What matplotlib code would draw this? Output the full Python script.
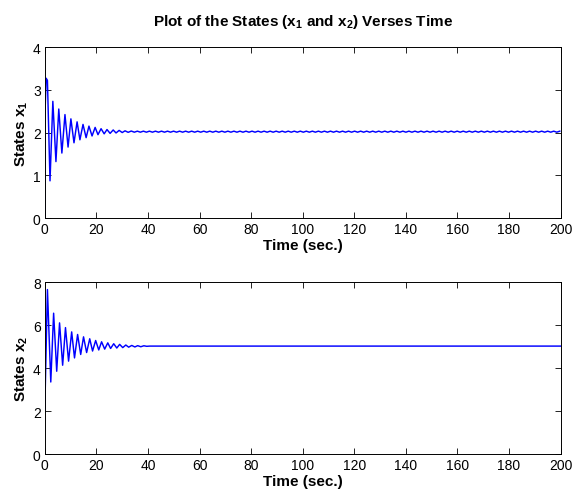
import numpy as np
import matplotlib
matplotlib.use("Agg")
import matplotlib.pyplot as plt

plt.rcParams["font.family"] = ["Liberation Sans", "DejaVu Sans"]
plt.rcParams["mathtext.default"] = "regular"

# turning points of x1 (time, value)
x1_t = [0, 0.05, 0.5, 1.0, 2.0, 3.1, 4.3, 5.4, 6.6, 7.8, 9.0, 10.1, 11.3, 12.5,
        13.6, 14.8, 16.0, 17.1, 18.3, 19.5, 20.6, 21.8, 23.0, 24.1, 25.3, 26.5,
        27.6, 28.8, 30.0, 31.1, 32.3, 33.5]
x1_v = [0, 2.43, 3.27, 3.22, 0.87, 2.73, 1.32, 2.55, 1.52, 2.42, 1.66, 2.32, 1.76,
        2.25, 1.83, 2.19, 1.88, 2.15, 1.92, 2.12, 1.95, 2.09, 1.97, 2.07, 1.98,
        2.06, 1.99, 2.05, 2.00, 2.04, 2.005, 2.035]
# small ripple that stays on x1 until the end
x1_ripple = [2.008, 2.032]

# turning points of x2
x2_t = [0, 0.1, 1.0, 2.3, 3.4, 4.6, 5.7, 6.9, 8.0, 9.2, 10.4, 11.5, 12.7, 13.9,
        15.0, 16.2, 17.4, 18.5, 19.7, 20.9, 22.0, 23.2, 24.4, 25.5, 26.7, 27.9,
        29.0, 30.2, 31.4, 32.5, 33.7, 34.9, 36.0, 37.2, 38.4, 39.5, 40.7, 42.0, 200]
x2_v = [2.0, 2.7, 7.65, 3.35, 6.55, 3.85, 6.1, 4.13, 5.88, 4.32, 5.68, 4.47, 5.56,
        4.63, 5.45, 4.72, 5.36, 4.79, 5.28, 4.84, 5.22, 4.88, 5.17, 4.91, 5.13,
        4.93, 5.10, 4.95, 5.07, 4.97, 5.05, 4.98, 5.04, 4.99, 5.035, 5.01, 5.02,
        5.02, 5.02]

x_ticks = [0, 20, 40, 60, 80, 100, 120, 140, 160, 180, 200]

tail_t = np.arange(34.7, 200.01, 1.17)
t1 = np.concatenate([x1_t, tail_t])
v1 = np.concatenate([x1_v, np.resize(x1_ripple, len(tail_t))])

fig = plt.figure(figsize=(5.75, 5.02), dpi=100)
ax1 = fig.add_axes([0.078, 0.5637, 0.897, 0.3406])
ax2 = fig.add_axes([0.078, 0.0936, 0.897, 0.3426])

ax1.plot(t1, v1, color="#0000ff", lw=1.05)
ax2.plot(x2_t, x2_v, color="#0000ff", lw=1.05)

for ax, top, lab in [(ax1, 4, "States x$_1$"), (ax2, 8, "States x$_2$")]:
    ax.set_xlim(0, 200)
    ax.set_ylim(0, top)
    ax.set_xticks(x_ticks)
    ax.set_yticks(np.linspace(0, top, 5))
    ax.tick_params(direction="in", top=True, right=True, length=4, width=0.6,
                   labelsize=10, pad=3)
    for s in ax.spines.values():
        s.set_linewidth(0.7)
    ax.set_xlabel("Time (sec.)", fontsize=11, fontweight="bold", labelpad=1)
    ax.set_ylabel(lab, fontsize=11, fontweight="bold", labelpad=2)

ax1.set_title("Plot of the States (x$_1$ and x$_2$) Verses Time", fontsize=11,
              fontweight="bold", pad=16)

fig.savefig("out.png", dpi=100)
